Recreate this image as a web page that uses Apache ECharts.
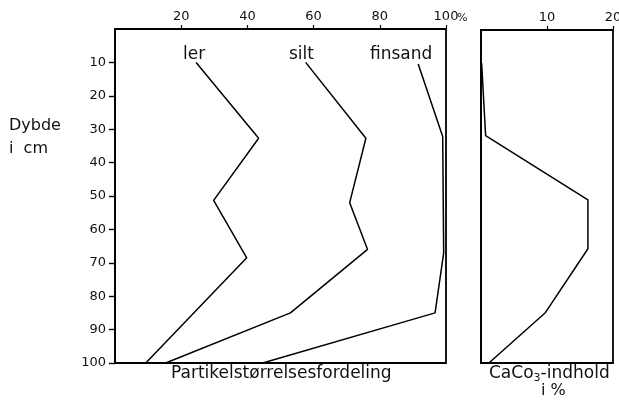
<!DOCTYPE html>
<html>
<head>
<meta charset="utf-8">
<script src="https://cdn.jsdelivr.net/npm/echarts@6/dist/echarts.min.js"></script>
<style>html,body{margin:0;padding:0;background:#fff;}#c{width:619px;height:401px;}</style>
</head>
<body>
<div id="c"></div>
<script>
// Depth (cm) and percentages
var lerDepth = [10, 32.7, 51.3, 68.5, 100];
var lerVal = [24.5, 43.4, 29.8, 39.8, 9.3];
var siltDepth = [10, 32.7, 52, 66, 85, 100];
var siltVal = [57.6, 75.8, 70.9, 76.3, 53, 15.3];
var finsandDepth = [10.5, 32.2, 67, 85, 100];
var finsandVal = [91.6, 99, 99.3, 96.7, 44.6];
var caco3Depth = [10, 31.7, 51, 65.7, 85, 100];
var caco3Val = [0.1, 0.7, 16.2, 16.2, 9.7, 1.2];
var depthTicks = [10, 20, 30, 40, 50, 60, 70, 80, 90, 100];
var pctTicks = [20, 40, 60, 80, 100];
var caTicks = [10, 20];

function pairs(v, d) { return v.map(function (x, i) { return [x, d[i]]; }); }

var FONT = 'DejaVu Sans';
var ink = '#111';
var chart = echarts.init(document.getElementById('c'), null, { renderer: 'canvas' });

function lineSeries(name, v, d, xi, yi) {
  return {
    name: name, type: 'line', xAxisIndex: xi, yAxisIndex: yi,
    data: pairs(v, d), symbol: 'none', smooth: false,
    lineStyle: { color: '#000', width: 1.5 }, z: 3
  };
}

chart.setOption({
  animation: false,
  backgroundColor: '#fff',
  grid: [
    { left: 115, right: 173, top: 29, bottom: 38, show: true, borderColor: '#000', borderWidth: 1.8, containLabel: false, outerBoundsMode: 'none' },
    { left: 481, right: 6, top: 30, bottom: 38, show: true, borderColor: '#000', borderWidth: 1.8, containLabel: false, outerBoundsMode: 'none' }
  ],
  xAxis: [
    {
      gridIndex: 0, type: 'value', position: 'top', min: 0, max: 100, interval: 20,
      axisLine: { show: true, lineStyle: { color: '#000', width: 1.8 } },
      axisTick: { show: true, length: 4, customValues: pctTicks, lineStyle: { color: '#000', width: 1.2 } },
      splitLine: { show: false },
      axisLabel: { margin: 6, color: ink, fontFamily: FONT, fontSize: 13, customValues: pctTicks }
    },
    {
      gridIndex: 1, type: 'value', position: 'top', min: 0, max: 20, interval: 10,
      axisLine: { show: true, lineStyle: { color: '#000', width: 1.8 } },
      axisTick: { show: true, length: 4, customValues: caTicks, lineStyle: { color: '#000', width: 1.2 } },
      splitLine: { show: false },
      axisLabel: { margin: 6, color: ink, fontFamily: FONT, fontSize: 13, customValues: caTicks, hideOverlap: false }
    }
  ],
  yAxis: [
    {
      gridIndex: 0, type: 'value', inverse: true, min: 0, max: 100, interval: 10,
      axisLine: { show: true, lineStyle: { color: '#000', width: 1.8 } },
      axisTick: { show: true, length: 6, customValues: depthTicks, lineStyle: { color: '#000', width: 1.4 } },
      splitLine: { show: false },
      axisLabel: { margin: 9, color: ink, fontFamily: FONT, fontSize: 13, customValues: depthTicks }
    },
    {
      gridIndex: 1, type: 'value', inverse: true, min: 0, max: 100, interval: 10,
      axisLine: { show: true, lineStyle: { color: '#000', width: 1.8 } },
      axisTick: { show: false }, axisLabel: { show: false }, splitLine: { show: false }
    }
  ],
  series: [
    lineSeries('ler', lerVal, lerDepth, 0, 0),
    lineSeries('silt', siltVal, siltDepth, 0, 0),
    lineSeries('finsand', finsandVal, finsandDepth, 0, 0),
    lineSeries('CaCO3', caco3Val, caco3Depth, 1, 1)
  ],
  graphic: [
    { type: 'text', left: 457, top: 13, style: { text: '%', fill: ink, font: '11px "' + FONT + '"' } },
    { type: 'text', left: 183, top: 46, style: { text: 'ler', fill: ink, font: '17px "' + FONT + '"' } },
    { type: 'text', left: 289, top: 46, style: { text: 'silt', fill: ink, font: '17px "' + FONT + '"' } },
    { type: 'text', left: 370, top: 46, style: { text: 'finsand', fill: ink, font: '17px "' + FONT + '"' } },
    { type: 'text', left: 9, top: 118, style: { text: 'Dybde', fill: ink, font: '16px "' + FONT + '"' } },
    { type: 'text', left: 9, top: 141, style: { text: 'i  cm', fill: ink, font: '16px "' + FONT + '"' } },
    { type: 'text', left: 171, top: 365, style: { text: 'Partikelstørrelsesfordeling', fill: ink, font: '17px "' + FONT + '"' } },
    { type: 'text', left: 489, top: 365, style: {
        text: 'CaCo{s|3}-indhold', fill: ink, font: '17px "' + FONT + '"',
        rich: { s: { fontSize: 11, fontFamily: FONT, fill: ink, padding: [9, 0, 0, 0] } }
      } },
    { type: 'text', left: 541, top: 383, style: { text: 'i %', fill: ink, font: '16px "' + FONT + '"' } }
  ]
});
</script>
</body>
</html>
